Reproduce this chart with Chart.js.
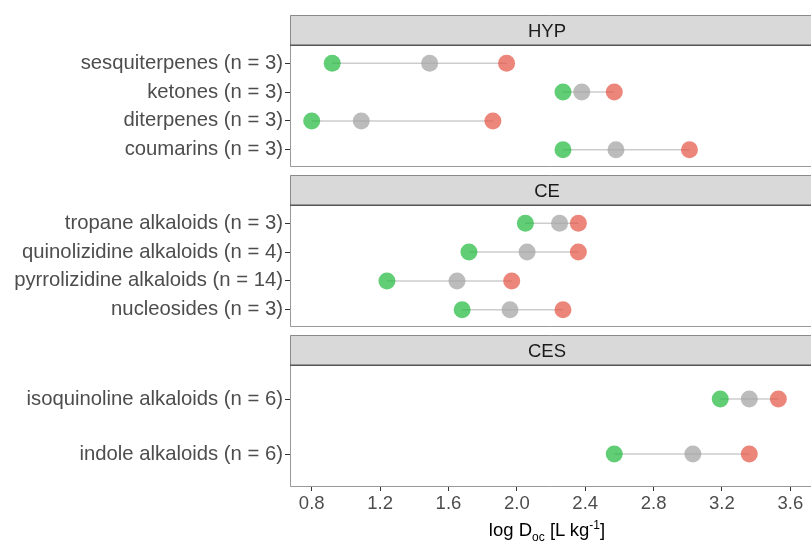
<!DOCTYPE html>
<html>
<head>
<meta charset="utf-8">
<script src="https://cdn.jsdelivr.net/npm/chart.js@4/dist/chart.umd.min.js"></script>
<style>
  html, body { margin: 0; padding: 0; background: #fff; overflow: hidden; }
  #wrap { position: relative; width: 811px; height: 542px; }
  .facet { position: absolute; left: 0; width: 811px; }
  #xtitle { position: absolute; left: 290px; width: 514px; top: 518px; text-align: center;
            font: 18.5px "Liberation Sans", Arial, sans-serif; color: #000; white-space: nowrap; }
  #xtitle sub, #xtitle sup { font-size: 12px; }
</style>
</head>
<body>
<div id="wrap">
  <div class="facet" style="top:15px;height:152px"><canvas id="c0"></canvas></div>
  <div class="facet" style="top:175px;height:152px"><canvas id="c1"></canvas></div>
  <div class="facet" style="top:335px;height:207px"><canvas id="c2"></canvas></div>
  <div id="xtitle">log D<sub>oc</sub> [L kg<sup>-1</sup>]</div>
</div>
<script>
// facets, top to bottom
const facetNames = ["HYP", "CE", "CES"];

const hypLabels = ["sesquiterpenes (n = 3)", "ketones (n = 3)", "diterpenes (n = 3)", "coumarins (n = 3)"];
const hypLow  = [0.92, 2.27, 0.80, 2.27];
const hypMid  = [1.49, 2.38, 1.09, 2.58];
const hypHigh = [1.94, 2.57, 1.86, 3.01];

const ceLabels = ["tropane alkaloids (n = 3)", "quinolizidine alkaloids (n = 4)", "pyrrolizidine alkaloids (n = 14)", "nucleosides (n = 3)"];
const ceLow  = [2.05, 1.72, 1.24, 1.68];
const ceMid  = [2.25, 2.06, 1.65, 1.96];
const ceHigh = [2.36, 2.36, 1.97, 2.27];

const cesLabels = ["isoquinoline alkaloids (n = 6)", "indole alkaloids (n = 6)"];
const cesLow  = [3.19, 2.57];
const cesMid  = [3.36, 3.03];
const cesHigh = [3.53, 3.36];

const xTicks = [0.8, 1.2, 1.6, 2.0, 2.4, 2.8, 3.2, 3.6];
const xMin = 0.673, xMax = 3.721;

const FONT = '"Liberation Sans", Arial, sans-serif';
const green = "rgba(30, 185, 60, 0.7)";
const grey = "rgba(165, 165, 165, 0.75)";
const red = "rgba(228, 82, 66, 0.7)";

// grey strip on top of each panel + panel border
const stripPlugin = {
    id: "strip",
    beforeDraw(chart, args, opts) {
        const {ctx, chartArea: a} = chart;
        ctx.save();
        ctx.fillStyle = "#d9d9d9";
        ctx.fillRect(a.left, 0, chart.width - a.left, a.top);
        ctx.strokeStyle = "#8a8a8a";
        ctx.lineWidth = 1;
        ctx.beginPath();
        ctx.moveTo(a.left + 0.5, a.top);
        ctx.lineTo(a.left + 0.5, 0.5);
        ctx.lineTo(chart.width, 0.5);
        ctx.stroke();
        ctx.strokeStyle = "#555";
        ctx.lineWidth = 1.5;
        ctx.beginPath();
        ctx.moveTo(a.left, a.top - 0.75);
        ctx.lineTo(chart.width, a.top - 0.75);
        ctx.stroke();
        ctx.fillStyle = "#1a1a1a";
        ctx.font = "18.5px " + FONT;
        ctx.textAlign = "center";
        ctx.textBaseline = "middle";
        ctx.fillText(opts.text, 547, a.top / 2 + 1);
        ctx.restore();
    },
    afterDraw(chart) {
        const {ctx, chartArea: a} = chart;
        ctx.save();
        ctx.strokeStyle = "#999";
        ctx.lineWidth = 1;
        ctx.beginPath();
        ctx.moveTo(chart.width, a.bottom - 0.5);
        ctx.lineTo(a.left + 0.5, a.bottom - 0.5);
        ctx.lineTo(a.left + 0.5, a.top);
        ctx.stroke();
        ctx.restore();
    }
};

function noPad(s) {
    s.paddingTop = 0;
    s.paddingBottom = 0;
    s.paddingLeft = 0;
    s.paddingRight = 0;
}

function makeFacet(id, name, labels, low, mid, high, showX) {
    const pts = (vals) => vals.map((v, i) => ({x: v, y: i + 1}));
    const segments = labels.map((_, i) => ({
        type: "line",
        data: [{x: low[i], y: i + 1}, {x: high[i], y: i + 1}],
        borderColor: "#cdcdcd",
        borderWidth: 1.5,
        pointRadius: 0,
        showLine: true,
        order: 5
    }));
    const dot = (vals, color, order) => ({
        data: pts(vals),
        backgroundColor: color,
        borderWidth: 0,
        pointRadius: 8.5,
        order: order
    });

    new Chart(document.getElementById(id), {
        type: "scatter",
        data: {
            datasets: [
                dot(high, red, 0),
                dot(mid, grey, 1),
                dot(low, green, 2),
                ...segments
            ]
        },
        options: {
            responsive: true,
            maintainAspectRatio: false,
            animation: false,
            layout: {autoPadding: false, padding: {top: 31, left: 0, right: 0, bottom: 0}},
            plugins: {
                legend: {display: false},
                tooltip: {enabled: false},
                strip: {text: name}
            },
            scales: {
                x: {
                    type: "linear",
                    display: showX,
                    min: xMin,
                    max: xMax,
                    afterBuildTicks: (s) => { s.ticks = xTicks.map((v) => ({value: v})); },
                    afterFit: (s) => { s.height = showX ? 55 : 0; noPad(s); },
                    border: {display: false},
                    grid: {drawOnChartArea: false, drawTicks: true, tickLength: 4, color: "#333"},
                    ticks: {
                        color: "#4d4d4d",
                        font: {family: FONT, size: 18.5},
                        padding: 2,
                        maxRotation: 0,
                        callback: (v) => Number(v).toFixed(1)
                    }
                },
                y: {
                    type: "linear",
                    reverse: true,
                    min: 0.4,
                    max: labels.length + 0.6,
                    afterBuildTicks: (s) => { s.ticks = labels.map((_, i) => ({value: i + 1})); },
                    afterFit: (s) => { s.width = 290; noPad(s); },
                    border: {display: false},
                    grid: {drawOnChartArea: false, drawTicks: true, tickLength: 5, color: "#333"},
                    ticks: {
                        autoSkip: false,
                        color: "#4d4d4d",
                        font: {family: FONT, size: 20.3},
                        padding: 2,
                        callback: (v) => labels[v - 1]
                    }
                }
            }
        },
        plugins: [stripPlugin]
    });
}

makeFacet("c0", facetNames[0], hypLabels, hypLow, hypMid, hypHigh, false);
makeFacet("c1", facetNames[1], ceLabels, ceLow, ceMid, ceHigh, false);
makeFacet("c2", facetNames[2], cesLabels, cesLow, cesMid, cesHigh, true);
</script>
</body>
</html>
